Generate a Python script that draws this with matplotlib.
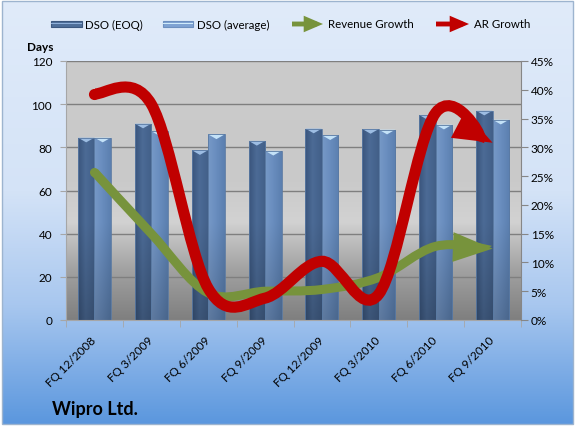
import numpy as np
import matplotlib
matplotlib.use("Agg")
import matplotlib.pyplot as plt
from matplotlib.colors import LinearSegmentedColormap, to_rgb
from matplotlib.patches import FancyArrowPatch, Rectangle, Polygon, ArrowStyle
from matplotlib.path import Path

plt.rcParams["font.family"] = ["Lato", "DejaVu Sans"]

quarters = ["FQ 12/2008", "FQ 3/2009", "FQ 6/2009", "FQ 9/2009",
            "FQ 12/2009", "FQ 3/2010", "FQ 6/2010", "FQ 9/2010"]
dso_eoq = [84.5, 91.0, 78.7, 83.0, 88.7, 88.5, 95.0, 97.0]
dso_avg = [84.5, 87.5, 86.0, 78.4, 85.6, 88.2, 90.5, 92.8]
revenue_growth = [25.7, 15.0, 4.7, 5.0, 5.3, 7.4, 12.8, 12.4]   # %
ar_growth = [39.3, 37.5, 5.5, 3.8, 10.2, 4.5, 36.0, 30.8]        # %

W, H = 575, 427
fig = plt.figure(figsize=(W / 100, H / 100), dpi=100, facecolor="white")


def fx(px):
    return px / W


def fy(py):
    return 1 - py / H


# chart area background
bg = fig.add_axes([0, 0, 1, 1])
bg.set_xlim(0, 1)
bg.set_ylim(0, 1)
bg.axis("off")
bg_cmap = LinearSegmentedColormap.from_list(
    "bg", [(0, "#5b97de"), (0.28, "#a8c7ef"), (0.55, "#d4e3f7"), (1, "#e0ebfa")])
bg.imshow(np.linspace(0, 1, 256)[:, None], cmap=bg_cmap, origin="lower", aspect="auto",
          extent=[fx(2), fx(W - 2), fy(H - 2), fy(2)], zorder=0)
bg.add_patch(Rectangle((fx(2), fy(H - 2)), fx(W - 4), 1 - fy(H - 4), fill=False,
                       ec="#9db4cf", lw=1, zorder=1))

# main axes
ax = fig.add_axes([fx(66), fy(321), fx(521 - 66), fy(62) - fy(321)])
pa_cmap = LinearSegmentedColormap.from_list(
    "pa", [(0, "#7f7f7f"), (0.2, "#a3a3a3"), (0.38, "#d2d2d2"), (0.55, "#c9c9c9"), (1, "#cbcbcb")])
ax.imshow(np.linspace(0, 1, 256)[:, None], cmap=pa_cmap, origin="lower", aspect="auto",
          extent=[0, 1, 0, 1], transform=ax.transAxes, zorder=0)

x = np.arange(len(quarters))
bw = 0.29
bars_eoq = ax.bar(x - bw / 2, dso_eoq, bw, color="#4c6b95", zorder=2)
bars_avg = ax.bar(x + bw / 2, dso_avg, bw, color="#6d90c0", zorder=2)


def shade(bars, left, mid, right, cap):
    left, mid, right = map(np.array, map(to_rgb, (left, mid, right)))
    t = np.linspace(0, 1, 40)[:, None]
    prof = np.where(t < 0.45, (t / 0.45) * (mid - left) + left,
                    ((t - 0.45) / 0.55) * (right - mid) + mid)
    for b in bars:
        x0, w, h = b.get_x(), b.get_width(), b.get_height()
        ys = np.linspace(0, h, 80)
        vert = np.interp(ys, [0, 45], [0.8, 1.0])[:, None, None]
        img = np.clip(prof[None, :, :] * vert, 0, 1)
        im = ax.imshow(img, extent=[x0, x0 + w, 0, h], origin="lower", aspect="auto",
                       interpolation="bilinear", zorder=2.1)
        im.set_clip_path(b)
        ax.add_patch(Polygon([(x0, h), (x0 + w, h), (x0 + w / 2, h - 2.2)],
                             closed=True, fc=cap, ec="none", zorder=2.2))
        ax.add_patch(Rectangle((x0, 0), w, h, fill=False, ec="#5a7aa3", lw=0.6, zorder=2.3))


shade(bars_eoq, "#3a557c", "#4c6b96", "#425f88", "#9dbde3")
shade(bars_avg, "#7799c7", "#6a8ebf", "#5b7faf", "#c4e2f8")

ax.set_xlim(-0.5, len(quarters) - 0.5)
ax.set_ylim(0, 120)
ax.set_yticks(np.arange(0, 121, 20))
ax.yaxis.grid(True, color="#7f7f7f", lw=1)
ax.set_axisbelow(True)
ax.set_xticks(x)
ax.set_xticklabels(quarters, rotation=45, ha="right", va="center", rotation_mode="anchor",
                   fontsize=8.5)
ax.set_xticks(np.arange(-0.5, len(quarters)), minor=True)
ax.tick_params(axis="x", which="major", length=0, pad=13)
ax.tick_params(axis="x", which="minor", length=5, color="#a6a6a6")
ax.tick_params(axis="y", length=4, color="#a6a6a6", labelsize=8.5, pad=6)
for s in ["top", "right"]:
    ax.spines[s].set_visible(False)
ax.spines["left"].set_color("#a6a6a6")
ax.spines["bottom"].set_color("#a6a6a6")

ax2 = ax.twinx()
ax2.set_ylim(0, 45)
ax2.set_yticks(np.arange(0, 46, 5))
ax2.set_yticklabels([f"{v}%" for v in range(0, 46, 5)])
ax2.tick_params(axis="y", length=5, color="#868686", labelsize=8.5, pad=2)
for s in ["top", "left", "bottom"]:
    ax2.spines[s].set_visible(False)
ax2.spines["right"].set_color("#868686")


def smooth_path(xs, ys):
    pts = np.column_stack([xs, ys]).astype(float)
    ext = np.vstack([pts[0], pts, pts[-1]])
    verts = [pts[0]]
    codes = [Path.MOVETO]
    for i in range(len(pts) - 1):
        p0, p1, p2, p3 = ext[i], ext[i + 1], ext[i + 2], ext[i + 3]
        verts += [p1 + (p2 - p0) / 6, p2 - (p3 - p1) / 6, p2]
        codes += [Path.CURVE4] * 3
    return Path(verts, codes)


def growth_arrow(values, color, lw, hl, hw):
    arr = FancyArrowPatch(path=smooth_path(x, values),
                          arrowstyle=ArrowStyle("-|>", head_length=hl, head_width=hw),
                          mutation_scale=20, lw=lw, color=color, zorder=5)
    arr.set_capstyle("butt")
    arr.set_joinstyle("miter")
    ax2.add_patch(arr)
    ax2.plot(x[0], values[0], "o", ms=lw, color=color, mec="none", zorder=5)


growth_arrow(revenue_growth, "#77933c", 6.5, 0.8, 0.3)
growth_arrow(ar_growth, "#c00000", 8, 0.65, 0.25)

# legend
ly = fy(25)
bg.add_patch(Rectangle((fx(51), fy(28)), fx(31), fy(22) - fy(28), fc="#4f6f9a", ec="#3c5880",
                       lw=0.8, zorder=3))
bg.add_patch(Rectangle((fx(51), fy(24.5)), fx(31), fy(23.5) - fy(24.5), fc="#8fb0da", ec="none", zorder=3))
bg.text(fx(85), ly, "DSO (EOQ)", fontsize=8.3, va="center", ha="left")
bg.add_patch(Rectangle((fx(163), fy(28)), fx(30), fy(22) - fy(28), fc="#7fa3d3", ec="#6d90c0",
                       lw=0.8, zorder=3))
bg.add_patch(Rectangle((fx(163), fy(24.5)), fx(30), fy(23.5) - fy(24.5), fc="#d0ecfb", ec="none", zorder=3))
bg.text(fx(197), ly, "DSO (average)", fontsize=8.3, va="center", ha="left")
for x0, x1, col, label in [(292, 323, "#77933c", "Revenue Growth"), (436, 469, "#c00000", "AR Growth")]:
    a = FancyArrowPatch((fx(x0), ly), (fx(x1), ly), transform=bg.transAxes,
                        arrowstyle=ArrowStyle("-|>", head_length=0.7, head_width=0.3),
                        mutation_scale=11, lw=3.5, color=col, shrinkA=0, shrinkB=0, zorder=3)
    a.set_capstyle("butt")
    a.set_joinstyle("miter")
    bg.add_patch(a)
    bg.text(fx(x1 + 5), ly, label, fontsize=8.3, va="center", ha="left")

bg.text(fx(54), fy(47.5), "Days", fontsize=8.5, fontweight="bold", ha="right", va="center")
bg.text(fx(52), fy(410), "Wipro Ltd.", fontsize=13, fontweight="bold", ha="left", va="center")

fig.savefig("out.png", dpi=100)
